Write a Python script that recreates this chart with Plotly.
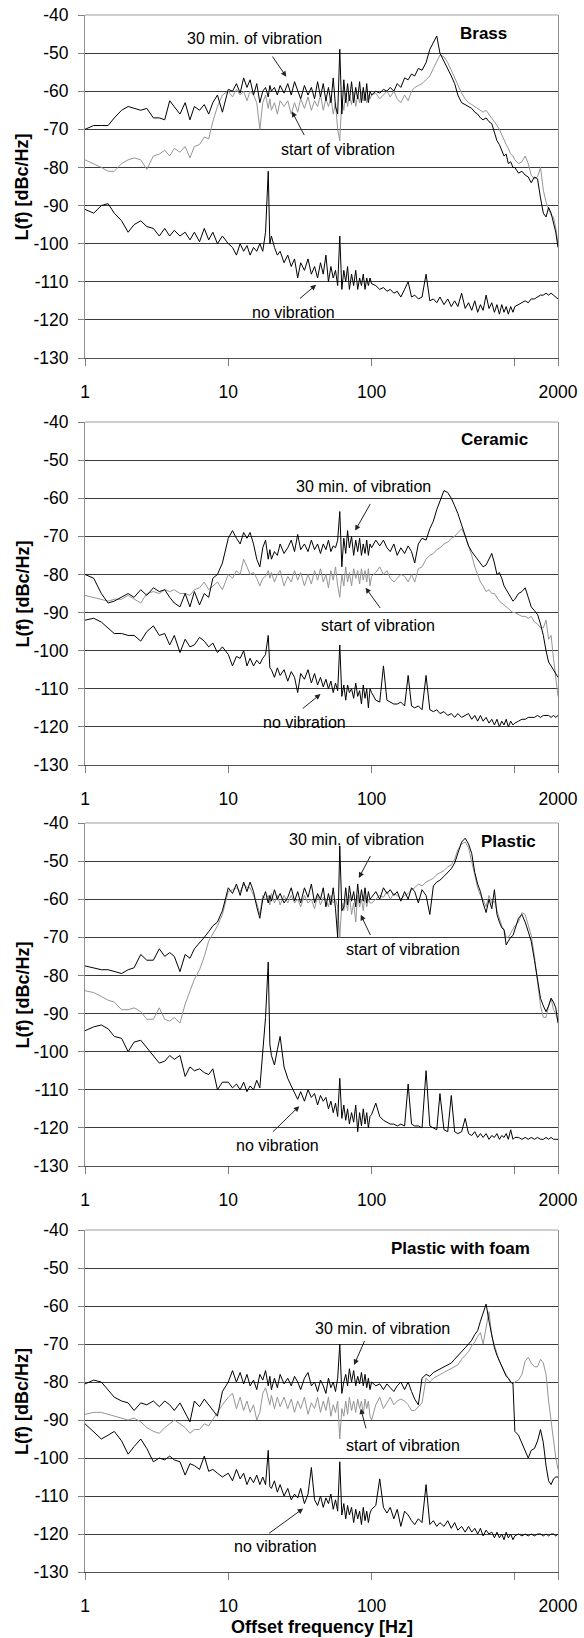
import math
import plotly.graph_objects as go

# ---------------- data ----------------
freq = [1, 1.15, 1.3, 1.45, 1.6, 1.8, 2, 2.2, 2.45, 2.7, 3, 3.3, 3.6, 3.9, 4.2, 4.6, 5, 5.4, 5.8, 6.3, 6.8, 7.3, 7.8, 8.4, 9.1,
        10, 10.7, 11.4, 12.1, 12.8, 13.5, 14.2, 15, 15.8, 16.6, 17.4, 18.2, 19, 19.5, 20, 21, 22, 23, 24.5, 26,
        27.5, 29, 30.5, 32, 34, 36, 38, 40, 42, 44, 46, 48, 50, 52, 54, 56, 58, 60, 62, 64,
        66, 68, 70, 72.5, 75, 77.5, 80, 82.5, 85, 87.5, 90, 92.5, 95, 97.5,
        100, 107, 114, 121, 128, 135, 143, 151, 160, 170, 180, 190, 200, 212, 225, 240, 255, 270, 285, 300,
        320, 340, 360, 380, 400, 425, 450, 475, 500, 525, 550, 575, 600, 630, 660, 690, 720, 750, 780, 810,
        840, 870, 900, 935, 970,
        1000, 1060, 1120, 1180, 1240, 1300, 1370, 1440, 1510, 1580, 1650, 1720, 1790, 1860, 1930, 2000]

brass_30min = [-70, -69, -69, -69, -67, -65, -64, -64.5, -65, -64.5, -67, -67, -67.5, -62.5, -64, -66, -63, -67.5, -64, -65, -63.5, -66, -63, -61, -65.5,
    -59.5, -60, -58, -60.5, -56.5, -59, -57, -61, -58, -63, -60, -59, -61.5, -58.5, -60, -59, -61, -58.5, -60.5, -58,
    -61, -57.5, -60, -62, -58.5, -61, -59, -62, -57.5, -61.5, -58, -62.5, -59, -63, -56.5, -64, -66, -49, -66, -57,
    -63, -58, -62.5, -57.5, -63, -59, -62, -57.5, -63, -59, -62.5, -58, -63, -60,
    -61, -60, -60.5, -59.5, -60, -59, -60, -58, -59, -56.5, -57, -55.5, -56, -54, -54.5, -52.5, -49, -47, -45.5, -50,
    -52, -54, -56, -58, -61, -63, -63.5, -64, -64.5, -65.5, -66, -67, -67.5, -67, -68, -68.5, -71, -73, -74, -75.5,
    -77, -76.5, -79, -78.5, -80,
    -80, -81.5, -81, -82, -82.5, -84, -82.5, -83, -88, -92, -93, -90.5, -92, -95, -97, -101]
brass_start = [-78, -79, -80, -81, -81, -79, -78, -77.5, -78, -80.5, -77, -76.5, -75.5, -77, -75, -76, -74.5, -77.5, -74.5, -74, -72, -72.5, -68, -64, -61,
    -60, -61.5, -59.5, -61, -60, -62.5, -60, -61, -63, -70, -63, -61, -64.5, -62, -65, -63, -66, -62.5, -64, -62.5,
    -66, -63, -65.5, -62, -64.5, -61.5, -65, -62.5, -64, -61, -65, -62, -64, -61.5, -66, -63, -70, -73, -62, -65,
    -60.5, -64, -61, -63.5, -60, -64, -61, -63, -60, -62.5, -60, -63, -61, -62,
    -61, -60.5, -62, -61, -60, -61.5, -60, -62, -63, -61, -62.5, -60, -59, -58.5, -58, -57, -56, -54, -52, -50.5,
    -51, -52.5, -54.5, -56.5, -58.5, -60.5, -62, -63, -63.5, -64, -64.5, -65, -65.5, -65, -66, -67, -68, -69, -70, -71.5,
    -73, -74, -75, -76.5, -77,
    -78, -79, -78.5, -77, -79, -82, -83, -82.5, -80, -86, -89, -91, -92.5, -93, -96, -100]
brass_novib = [-91, -92, -90, -89.5, -92, -94, -97, -95, -94, -95.5, -96, -98, -96, -98, -96.5, -98, -97, -99, -97, -99.5, -96, -99, -97, -100, -98,
    -100, -101, -103, -100, -102, -100.5, -103, -101, -102, -100, -102, -97, -81, -100, -98, -101, -103, -102, -105, -103,
    -106, -104, -109, -105, -107, -104, -108, -106, -109, -105, -108, -103, -110, -106, -109, -107, -111, -98, -112, -107,
    -110, -106, -112, -108, -111, -107, -112, -109, -111, -108, -112, -109, -111, -109,
    -110.5, -111, -112, -111.5, -112.5, -112, -113, -112.5, -114, -112, -110, -114, -113.5, -114.5, -114, -108, -115, -114.5, -115.5, -114,
    -116, -114.5, -116.5, -115, -116.5, -113, -117, -115.5, -117.5, -115, -118, -116, -117.5, -113.5, -117, -115.5, -118, -116, -118.5, -116,
    -118, -116.5, -118.5, -116.5, -118,
    -116.5, -116, -115.5, -115, -115.5, -114.5, -114.5, -114, -113.5, -113.5, -113, -113.5, -113, -113.5, -114, -114.5]

ceramic_30min = [-80, -81, -85, -87.5, -87, -86, -85, -86, -84, -85.5, -83.5, -84.5, -84, -86, -87.5, -88.5, -85, -88.5, -84.5, -88, -85, -86, -81, -80, -77,
    -70.5, -68.5, -70.5, -72, -69, -70.5, -69, -72, -76, -78, -73, -71, -76, -73.5, -76, -74, -75, -72, -74.5, -73,
    -71, -74, -69.5, -73.5, -72, -74, -71, -73.5, -72, -74.5, -72, -73.5, -71, -74, -72.5, -73, -71, -63.5, -78, -70.5,
    -74.5, -68.5, -73, -70, -75, -71, -74, -70.5, -75, -72, -74.5, -71, -75, -72,
    -73, -71, -72.5, -71, -73, -74, -72, -75, -73, -74.5, -72.5, -74, -77, -72, -70.5, -71, -68, -66, -63, -61,
    -58, -58.5, -60, -62, -64, -67, -70, -72.5, -74, -75, -76, -77, -78, -77.5, -76, -74.5, -77, -80, -79.5, -81,
    -83, -84, -85, -86, -87,
    -86.5, -85, -84.5, -83.5, -86, -88.5, -89.5, -90.5, -93, -96, -100, -103, -104, -105, -106, -107]
ceramic_start = [-85.5, -86, -86.5, -87, -86.5, -86.5, -85.5, -86.5, -87.5, -85, -84.5, -85, -84, -84.5, -84, -85, -85, -85.5, -84, -83.5, -82, -84, -83, -82, -84,
    -80, -81, -79, -80, -76, -78, -80, -79.5, -81, -83, -81, -80.5, -79, -81, -79.5, -82, -80, -79, -83, -80.5,
    -82, -79, -81.5, -79.5, -83, -80, -82.5, -79, -81.5, -78.5, -82, -80, -83.5, -79, -81.5, -78, -83, -86, -80, -83,
    -78, -82, -79.5, -83, -78.5, -81, -79, -82.5, -78.5, -81.5, -79, -82, -78.5, -83,
    -80.5, -79.5, -78, -80, -79, -81, -82, -81, -80, -80.5, -82, -80, -82, -78.5, -78, -76, -75, -74.5, -73.5, -73,
    -72, -71.5, -70.5, -70, -69, -68, -70, -72.5, -75, -78, -80, -82, -83, -84.5, -84, -85, -85, -86, -87, -87.5,
    -88, -88.5, -89, -89.5, -90,
    -90, -90.5, -91, -91, -91.5, -91, -92.5, -93, -94, -94, -92, -97, -96, -102, -108, -112]
ceramic_novib = [-92, -91.5, -92.5, -94, -95.5, -95.5, -96, -96, -97.5, -95, -93.5, -96, -95.5, -98.5, -96, -100.5, -97, -99, -98.5, -96.5, -97.5, -99, -98, -100.5, -99,
    -101, -104, -101.5, -102, -100, -104, -102, -104, -102.5, -103.5, -102, -101, -96, -104.5, -105, -107, -104.5, -106.5, -105, -108,
    -105.5, -107, -111, -106, -107.5, -105, -108.5, -106, -109, -107, -109.5, -107.5, -110, -108, -111, -108.5, -110.5, -98.5, -112, -109,
    -113, -109, -111, -110, -112.5, -108.5, -112, -110.5, -114, -109, -112.5, -110, -115, -110,
    -111, -113, -113.5, -104, -113, -113.5, -114, -114, -113.5, -114.5, -106.5, -114.5, -115, -114.5, -115.5, -106.5, -115.5, -116, -115.5, -116.5,
    -116, -117, -116.5, -117.5, -116.5, -117.5, -117, -116.5, -118, -117, -118.5, -117, -118.5, -117.5, -119, -118, -119.5, -118, -120, -118.5,
    -119.5, -118, -120, -118.5, -119.5,
    -119, -118.5, -118, -118, -117.5, -117.5, -117.5, -117, -117.5, -117, -117, -117, -117.5, -117, -117.5, -117]

plastic_30min = [-77.5, -78, -78.5, -78.5, -79, -79.5, -78.5, -78, -74.5, -76, -76, -73, -75, -74, -75, -79, -74.5, -75.5, -73, -71.5, -70, -68.5, -67, -66, -63,
    -57, -58.5, -56, -59, -55.5, -58, -55.5, -58, -62, -65, -60, -58, -61, -59, -60.5, -57.5, -60, -58.5, -61, -59.5,
    -57, -60.5, -58, -61, -57, -59.5, -56, -61, -58.5, -60, -57, -62, -58.5, -61.5, -57, -62.5, -70, -46, -63, -62,
    -57, -61.5, -56.5, -60.5, -58, -62, -56, -61, -57.5, -60.5, -57, -61, -58, -60,
    -59.5, -58, -60, -57, -58.5, -57.5, -59, -58, -60.5, -58, -60, -57, -58, -61, -57.5, -59, -64, -56.5, -55.5, -55,
    -54, -53, -52, -50.5, -48, -45, -44, -45.5, -48, -53, -56, -58, -61, -63.5, -60, -62.5, -57.5, -64, -66, -67.5,
    -68, -72, -71, -70, -69.5,
    -68, -65, -64, -66, -68.5, -71, -76, -81, -86, -88, -89.5, -88, -86, -87, -88.5, -92.5]
plastic_start = [-84, -84.5, -85.5, -86.5, -87, -89, -89, -88.5, -89.5, -91.5, -91.5, -88.5, -91.5, -92, -91, -92.5, -87.5, -84, -81, -78.5, -75, -71, -69, -67, -64,
    -58, -57.5, -57, -58, -56, -57, -57, -59, -61, -64, -59, -60, -59, -61.5, -58.5, -61, -59, -61.5, -59, -61,
    -59, -61, -60, -62, -59, -61, -60, -62.5, -59, -61.5, -59.5, -60, -62, -59, -61, -60, -62, -70, -61, -63,
    -60, -63, -59, -64, -61, -66, -59, -62, -60, -63, -59, -62, -60, -61,
    -61, -60, -59, -59.5, -58, -60, -58.5, -59, -60, -59, -58.5, -57.5, -57, -56, -56.5, -55.5, -55, -54.5, -53.5, -53,
    -52.5, -51.5, -51, -49.5, -47, -45.5, -45, -46.5, -50, -54, -57, -59, -60, -62, -59, -61, -60.5, -63, -65, -67,
    -68, -70, -70, -69, -68,
    -67, -66, -63.5, -64, -66.5, -69.5, -75, -82, -88, -91, -91, -88, -86, -89, -90, -92]
plastic_novib = [-94.5, -93.5, -93, -94, -96, -96.5, -100, -97.5, -97, -99, -101, -103, -102.5, -101, -102, -101, -106.5, -104, -105, -104.5, -105.5, -106, -104.5, -110, -108,
    -108, -109.5, -108.5, -110, -108, -110.5, -109, -110, -107.5, -109.5, -100, -91, -76.5, -98, -101, -103.5, -99.5, -96, -104, -107,
    -109, -111, -112.5, -110.5, -113, -110, -112, -111, -114, -111.5, -113, -112, -115, -113, -116, -113.5, -117, -107, -117.5, -114,
    -118, -115, -119, -116, -118.5, -114, -121, -116, -119.5, -115, -119, -116, -120, -117,
    -116.5, -113.5, -117, -118, -118.5, -119, -119, -119.5, -119, -119.5, -108.5, -119, -119.5, -119.5, -120, -105, -119.5, -120, -120.5, -111,
    -120.5, -121, -111.5, -121, -121.5, -121, -117.5, -121.5, -122, -121, -122.5, -121.5, -122.5, -121.5, -123, -122, -122.5, -121.5, -123, -122,
    -122.5, -121.5, -123, -120.5, -123,
    -122.5, -122.5, -123, -122.5, -123, -122.5, -123, -122.5, -123, -123, -122.5, -123, -122.5, -123, -123, -123]

foam_30min = [-80.5, -79.5, -80, -82, -84, -85, -85.5, -87.5, -85.5, -86, -85, -86.5, -85, -86, -87.5, -85.5, -88, -90.5, -85, -86.5, -84.5, -86, -87.5, -89, -82.5,
    -80, -77, -80, -77.5, -80.5, -78, -81, -79.5, -82, -78, -79.5, -77, -81, -78.5, -82, -79, -81.5, -78, -80.5, -79,
    -81, -78.5, -80, -82, -79, -77.5, -81, -80, -82.5, -79.5, -81, -83, -79, -81.5, -80, -82.5, -79, -70, -83, -80,
    -78, -81, -76.5, -80, -77, -81, -78.5, -80.5, -77.5, -81, -78, -81.5, -79, -82,
    -80, -81, -80.5, -82, -80.5, -81.5, -82.5, -81, -80, -82, -80, -82.5, -84.5, -86, -79, -78, -78.5, -77.5, -77, -76.5,
    -76, -75.5, -75, -74, -73, -72, -71, -70, -69, -67.5, -66.5, -64, -62, -59.5, -64, -68, -71, -73, -74.5, -76,
    -77, -78.5, -79, -80, -80.5,
    -93, -94, -96, -98, -100, -98, -97.5, -95.5, -92.5, -96, -102, -106, -107, -105.5, -105, -105]
foam_start = [-88.5, -88, -88, -88.5, -89, -89.5, -90, -89.5, -90.5, -92, -93, -93.5, -92, -91, -90, -91, -92, -93.5, -92.5, -92.5, -91, -91.5, -90, -88, -86,
    -84, -83, -87, -84, -87.5, -85, -88, -86, -90, -88, -83, -81.5, -84, -86, -83.5, -87, -84, -86.5, -84, -87,
    -84.5, -88, -85, -87, -84, -88.5, -85.5, -87, -84, -88, -85, -87.5, -84, -89, -86, -88, -85, -95, -87, -89,
    -85, -88.5, -84, -87.5, -85, -88, -84.5, -87, -85, -88.5, -84.5, -87, -85, -89,
    -90, -86, -84, -87, -85.5, -84, -86, -85, -84.5, -85, -86, -87.5, -87.5, -86.5, -85.5, -79, -80, -79, -78.5, -78,
    -77.5, -77, -76.5, -76, -75.5, -74, -73, -72, -70.5, -69.5, -68, -67, -70, -66, -61.5, -68, -70, -72.5, -74.5, -76,
    -77, -78, -79, -80, -80.5,
    -80, -79.5, -78, -74.5, -73.5, -75, -76, -76, -74, -75, -78, -85, -90, -96, -100, -103]
foam_novib = [-91, -93, -95, -94, -93, -95.5, -99, -97, -95, -97.5, -101, -100, -100.5, -99.5, -100.5, -101, -104.5, -101.5, -102, -103, -99.5, -103.5, -103, -104, -105,
    -104, -106, -103, -105.5, -104, -107, -105, -106.5, -104.5, -107, -105, -107, -98, -107.5, -108, -106, -109, -107, -110, -108,
    -111, -109.5, -110.5, -108, -112, -109.5, -102.5, -111, -112.5, -110, -113, -110.5, -112, -109.5, -113.5, -111, -114, -101, -115, -112,
    -116, -112.5, -115, -113, -117, -113.5, -116, -114, -117.5, -113, -116.5, -114, -117, -114.5,
    -113.5, -112.5, -105.5, -113, -114.5, -113, -116, -113.5, -118, -114, -115, -116.5, -117.5, -116, -117, -107, -117.5, -116.5, -118, -117,
    -118, -116.5, -118.5, -117, -119, -118, -119.5, -118, -119.5, -118.5, -120, -118.5, -120.5, -119, -120, -119.5, -121, -119.5, -121, -120,
    -121.5, -119.5, -121, -120, -121.5,
    -120.5, -120, -120.5, -120, -120.5, -120, -120.5, -120, -120, -120.5, -120, -120.5, -120, -120, -120.5, -120]

panel_names = ["Brass", "Ceramic", "Plastic", "Plastic with foam"]
label_30 = "30 min. of vibration"
label_start = "start of vibration"
label_novib = "no vibration"
x_tickvals = [1, 10, 100, 1000, 2000]
x_ticktext = ["1", "10", "100", "", "2000"]
y_tickvals = [-130, -120, -110, -100, -90, -80, -70, -60, -50, -40]
y_ticktext = ["-130", "-120", "-110", "-100", "-90", "-80", "-70", "-60", "-50", "-40"]

series = [
    (brass_start, brass_30min, brass_novib),
    (ceramic_start, ceramic_30min, ceramic_novib),
    (plastic_start, plastic_30min, plastic_novib),
    (foam_start, foam_30min, foam_novib),
]
for grp in series:
    for s in grp:
        assert len(s) == len(freq), (len(s), len(freq))

# annotation placement (frequency in Hz, level in dBc/Hz)
title_pos = [(608, -44.8), (723, -44.7), (908, -44.8), (418, -44.9)]
t30_pos = [(15.3, -46.1), (88.2, -56.9), (79.1, -44.4), (119, -66.0)]
tst_pos = [(58.7, -75.4), (110, -93.3), (167, -73.1), (167, -96.8)]
tnv_pos = [(28.3, -118.0), (34.3, -118.8), (21.9, -124.5), (21.5, -123.3)]
# arrows: (tail f, tail y, head f, head y)
a30 = [(20.0, -50.5, 25.4, -56.2), (99.3, -61.1, 76.8, -68.5), (99.3, -48.3, 81.5, -54.4), (90.3, -68.8, 75.5, -75.5)]
ast = [(34.3, -71.9, 27.8, -65.3), (117, -89.2, 90.8, -83.5), (99.3, -69.8, 84.0, -64.1), (92.0, -92.6, 84.0, -87.0)]
anv = [(30.9, -114.7, 41.0, -110.8), (32.3, -115.5, 44.0, -111.4), (20.0, -121.4, 31.3, -114.3), (18.8, -120.1, 33.3, -113.3)]

# ---------------- figure ----------------
FONT = "Liberation Sans, Arial, sans-serif"
W, H = 584, 1638
ML, MR, MT, MB = 85, 26, 15, 66
plot_h = H - MT - MB
panel_px = [(15, 358), (422, 765), (823, 1166), (1230, 1572)]
domains = [[(H - MB - b) / plot_h, (H - MB - t) / plot_h] for t, b in panel_px]
domains = [[max(0, d0), min(1, d1)] for d0, d1 in domains]

fig = go.Figure()
annotations = []
shapes = []
lg = math.log10
for i in range(4):
    n = "" if i == 0 else str(i + 1)
    xa, ya = "x" + n, "y" + n
    st, s30, nv = series[i]
    fig.add_trace(go.Scatter(x=freq, y=st, mode="lines", xaxis=xa, yaxis=ya,
                             line=dict(color="#959595", width=1), hoverinfo="skip"))
    fig.add_trace(go.Scatter(x=freq, y=s30, mode="lines", xaxis=xa, yaxis=ya,
                             line=dict(color="#000000", width=1), hoverinfo="skip"))
    fig.add_trace(go.Scatter(x=freq, y=nv, mode="lines", xaxis=xa, yaxis=ya,
                             line=dict(color="#000000", width=1), hoverinfo="skip"))
    fig.layout["xaxis" + n] = dict(
        type="log", range=[0, lg(2000)], domain=[0, 1], anchor=ya,
        tickvals=x_tickvals, ticktext=x_ticktext, ticks="outside", ticklen=7,
        tickcolor="#808080", tickwidth=1, showline=True, linecolor="#505050", linewidth=1,
        showgrid=False, zeroline=False, tickfont=dict(family=FONT, size=17.5, color="black"),
        ticklabelstandoff=11, ticklabeloverflow="allow")
    fig.layout["yaxis" + n] = dict(
        range=[-130, -40], domain=domains[i], anchor=xa, tickvals=y_tickvals, ticktext=y_ticktext,
        ticks="outside", ticklen=6, tickcolor="#808080", tickwidth=1,
        showline=True, mirror=True, linecolor="#909090", linewidth=1,
        showgrid=True, gridcolor="#3a3a3a", gridwidth=1, zeroline=False,
        tickfont=dict(family=FONT, size=17.5, color="black"), ticklabelstandoff=6)
    shapes.append(dict(type="line", xref=xa + " domain", yref=ya + " domain", x0=0, x1=1, y0=1, y1=1,
                       line=dict(color="#a0a0a0", width=1.2), layer="above"))
    annotations.append(dict(x=lg(title_pos[i][0]), y=title_pos[i][1], xref=xa, yref=ya,
                            text="<b>" + panel_names[i] + "</b>", showarrow=False,
                            font=dict(family=FONT, size=17, color="black"), xanchor="center", yanchor="middle"))
    for pos, txt in ((t30_pos[i], label_30), (tst_pos[i], label_start), (tnv_pos[i], label_novib)):
        annotations.append(dict(x=lg(pos[0]), y=pos[1], xref=xa, yref=ya, text=txt, showarrow=False,
                                font=dict(family=FONT, size=16, color="black"), xanchor="center", yanchor="middle"))
    for arr in (a30[i], ast[i], anv[i]):
        annotations.append(dict(x=lg(arr[2]), y=arr[3], ax=lg(arr[0]), ay=arr[1], xref=xa, yref=ya,
                                axref=xa, ayref=ya, text="", showarrow=True, arrowhead=2, arrowsize=1.1,
                                arrowwidth=1, arrowcolor="#222222", standoff=0, startstandoff=0))
    annotations.append(dict(x=(22 - ML) / (W - ML - MR), y=(domains[i][0] + domains[i][1]) / 2, xref="paper", yref="paper",
                            text="<b>L(f) [dBc/Hz]</b>", textangle=-90, showarrow=False,
                            font=dict(family=FONT, size=18, color="black"), xanchor="center", yanchor="middle"))

annotations.append(dict(x=0.5, y=(H - MB - 1627) / plot_h, xref="paper", yref="paper",
                        text="<b>Offset frequency [Hz]</b>", showarrow=False,
                        font=dict(family=FONT, size=18, color="black"), xanchor="center", yanchor="middle"))

fig.update_layout(width=W, height=H, margin=dict(l=ML, r=MR, t=MT, b=MB, autoexpand=False),
                  paper_bgcolor="white", plot_bgcolor="white", showlegend=False,
                  annotations=annotations, shapes=shapes, font=dict(family=FONT))
fig.write_html("out.html", config={"displayModeBar": False},
               post_script="document.body.style.margin='0';document.body.style.padding='0';document.body.style.overflow='hidden';")
